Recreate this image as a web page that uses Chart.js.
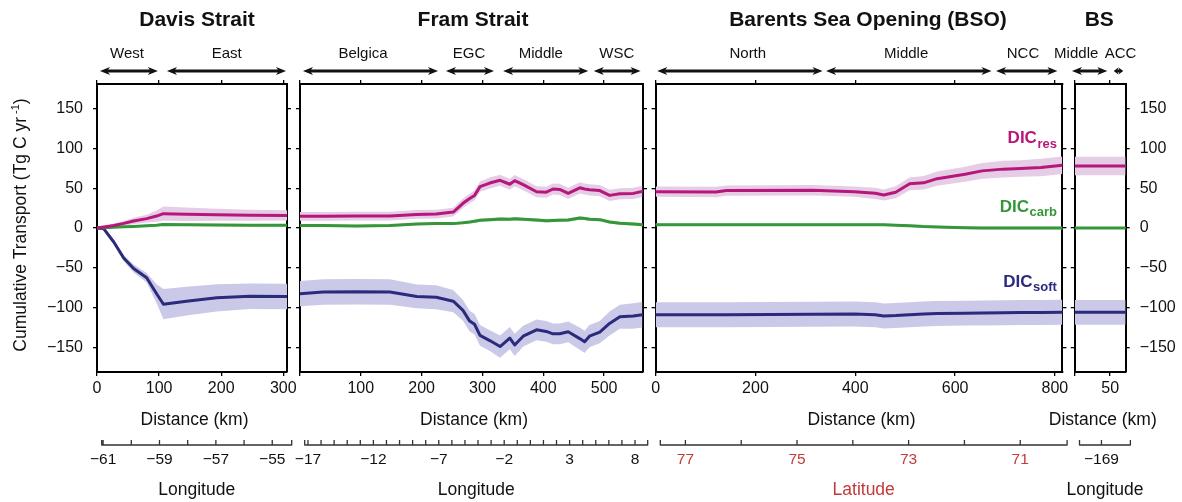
<!DOCTYPE html>
<html><head><meta charset="utf-8">
<script src="https://cdn.jsdelivr.net/npm/chart.js@4.4.1/dist/chart.umd.min.js"></script>
<style>
html,body{margin:0;padding:0;background:#fff;width:1182px;height:502px;overflow:hidden}
canvas{position:absolute;left:0;top:0}
</style></head><body>
<canvas id="c0" width="1182" height="502"></canvas>
<canvas id="c1" width="1182" height="502"></canvas>
<canvas id="c2" width="1182" height="502"></canvas>
<canvas id="c3" width="1182" height="502"></canvas>
<script>
// ---------------- DATA ----------------
const yTicks = [-150, -100, -50, 0, 50, 100, 150];

// Davis Strait
const davisKm      = [0, 11, 27, 43, 59, 80, 96, 107, 144, 193, 246, 306];
const davisRes     = [0, 1.2, 3.2, 5.8, 8.8, 11.8, 15, 18, 17.4, 16.6, 16, 15.8];
const davisCarb    = [0, 0.4, 1, 1.5, 2, 2.8, 3.5, 4.5, 4.2, 3.8, 3.5, 3.4];
const davisSoft    = [0, -1, -17.6, -37.8, -51, -62.6, -82.7, -95.8, -92, -87.8, -85.7, -86];
const davisResErr  = [0.5, 1, 2, 3, 4, 5, 7, 9, 8.5, 7.5, 7, 6.5];
const davisCarbErr = [0.3, 0.4, 0.6, 0.8, 1, 1.2, 1.4, 1.6, 1.6, 1.6, 1.6, 1.6];
const davisSoftErr = [0.5, 1, 2.5, 4, 5, 6, 12, 19, 18, 17, 16, 16];
const davisXTicks  = [0, 100, 200, 300];
const davisXLabels = ['0', '100', '200', '300'];
const davisSecNames = ['West', 'East'];
const davisSecFrom  = [4.8, 112.7];
const davisSecTo    = [98, 304.4];
const davisSecLabel = [48.3, 209];
const davisLonRange  = [-61.05, -54.31];
const davisLonTicks  = [-61, -60, -59, -58, -57, -56, -55];
const davisLonLabels = [-61, -59, -57, -55];

// Fram Strait
const framKm   = [0, 38, 93, 148, 192, 224, 252, 268, 279, 287, 296, 312, 329, 345, 353, 367, 389, 405, 416, 427, 441, 460, 468, 476, 493, 509, 526, 548, 563];
const framRes  = [14.7, 14.7, 15, 15, 17, 17.5, 20, 31, 37, 41, 52, 56.5, 60, 55, 59.5, 54.5, 45.5, 45, 49, 48.5, 43.5, 50.5, 49, 48, 47, 41, 43, 43.5, 46];
const framCarb = [3, 3, 2.5, 3, 5, 5.5, 5.5, 6.5, 7.5, 8.5, 9.7, 10.5, 11.2, 11, 11.5, 11, 10, 9, 9.5, 9.8, 10, 12.5, 12, 11, 10.5, 7.5, 6, 5, 4.2];
const framSoft = [-82.5, -80.5, -80, -80.5, -86, -87, -92, -103.5, -117, -121, -135, -141.5, -149, -138.5, -147, -136, -128, -130, -133, -133, -130.5, -139, -143, -136, -131, -120, -111.5, -110.5, -109];
const framResErr  = [5.5, 5.5, 5.5, 5.5, 5.5, 5.5, 5.5, 6, 6, 6, 6.5, 7, 7, 7, 7, 7, 7, 7, 7, 7, 7, 7, 7, 7, 7, 7, 7, 7, 7];
const framCarbErr = [1.5, 1.5, 1.5, 1.5, 1.5, 1.5, 1.5, 1.6, 1.7, 1.8, 1.9, 2, 2, 2, 2, 2, 2, 2, 2, 2, 2, 2, 2, 2, 2, 2, 2, 2, 2];
const framSoftErr = [16, 16, 16, 16, 15, 15, 14, 13, 13, 13, 13, 13, 14, 14, 14, 13, 13, 13, 13, 13, 13, 14, 14, 14, 14, 15, 15, 16, 16];
const framXTicks  = [0, 100, 200, 300, 400, 500];
const framXLabels = ['', '100', '200', '300', '400', '500'];
const framSecNames = ['Belgica', 'EGC', 'Middle', 'WSC'];
const framSecFrom  = [4.9, 240, 334, 483];
const framSecTo    = [227, 319, 474, 560];
const framSecLabel = [103.6, 278, 396, 521];
const framLonRange  = [-17.25, 8.97];
const framLonTicks  = [-17, -16, -15, -14, -13, -12, -11, -10, -9, -8, -7, -6, -5, -4, -3, -2, -1, 0, 1, 2, 3, 4, 5, 6, 7, 8];
const framLonLabels = [-17, -12, -7, -2, 3, 8];

// Barents Sea Opening
const bsoKm   = [0, 121, 142, 315, 398, 440, 457, 481, 509, 537, 564, 620, 654, 696, 731, 772, 815];
const bsoRes  = [45.7, 45.3, 47, 47.4, 45.7, 43.6, 41.5, 44.9, 55.6, 56.8, 62, 67.5, 71.8, 74, 74.8, 76, 79];
const bsoCarb = [4, 4, 4, 4, 4, 4, 4, 3.6, 2.8, 1.8, 1.4, 0.3, 0, 0, 0, 0, 0];
const bsoSoft = [-109, -109, -109, -108.5, -108, -109, -110.5, -110, -109, -108, -107.5, -107, -106.7, -106.5, -106.3, -106.2, -106];
const bsoResErr  = [6.5, 6.5, 6.5, 6.5, 6.5, 7, 7, 7.5, 8, 8.5, 9, 9.5, 10, 10.5, 10.5, 11, 11];
const bsoCarbErr = [1.5, 1.5, 1.5, 1.5, 1.5, 1.5, 1.5, 1.5, 1.5, 1.5, 1.5, 1.5, 1.5, 1.5, 1.5, 1.5, 1.5];
const bsoSoftErr = [15.7, 15.7, 15.7, 15.7, 15.7, 15.7, 15.7, 15.7, 15.7, 15.7, 15.7, 15.7, 15.7, 15.7, 15.7, 15.7, 15.7];
const bsoXTicks  = [0, 200, 400, 600, 800];
const bsoXLabels = ['0', '200', '400', '600', '800'];
const bsoSecNames = ['North', 'Middle', 'NCC'];
const bsoSecFrom  = [3.4, 341.5, 682];
const bsoSecTo    = [334.5, 673, 805];
const bsoSecLabel = [184.7, 502, 736];
const bsoLatRange  = [77.45, 70.16];
const bsoLatTicks  = [77, 76, 75, 74, 73, 72, 71];
const bsoLatLabels = [77, 75, 73, 71];

// Bering Strait
const bsKm   = [0, 72];
const bsRes  = [78, 78];
const bsCarb = [0, 0];
const bsSoft = [-106, -106];
const bsResErr  = [11.7, 11.7];
const bsCarbErr = [1.2, 1.2];
const bsSoftErr = [15.5, 15.5];
const bsXTicks  = [0, 50];
const bsXLabels = ['', '50'];
const bsSecNames = ['Middle', 'ACC'];
const bsSecFrom  = [-4, 55];
const bsSecTo    = [46, 68.6];
const bsSecLabel = [2, 64.6];
const bsLonRange  = [-169.69, -168.09];
const bsLonTicks  = [-169];
const bsLonLabels = [-169];

// ---------------- STYLE ----------------
const FONT = '"Liberation Sans", Arial, Helvetica, sans-serif';
Chart.defaults.font.family = FONT;
Chart.defaults.color = '#111';
const COLORS = {
  res: '#b5177b', resBand: '#e6cde6',
  carb: '#35973a', carbBand: '#b8dcb2',
  soft: '#2c2a7c', softBand: '#cacae8',
  lat: '#c33a3a', ink: '#111'
};
const fmt = v => (v < 0 ? '\u2212' + Math.abs(v) : String(v));

const panels = [
  { id: 'c0', title: 'Davis Strait', titleDx: 5, area: [97, 287], xMax: 306,
    km: davisKm, res: davisRes, carb: davisCarb, soft: davisSoft,
    resErr: davisResErr, carbErr: davisCarbErr, softErr: davisSoftErr,
    xTicks: davisXTicks, xLabels: davisXLabels,
    secNames: davisSecNames, secFrom: davisSecFrom, secTo: davisSecTo, secLabel: davisSecLabel,
    axRange: davisLonRange, axTicks: davisLonTicks, axLabels: davisLonLabels, axTitle: 'Longitude', axColor: COLORS.ink,
    leftLabels: true, rightLabels: false, yTitle: true, dic: false },
  { id: 'c1', title: 'Fram Strait', titleDx: 1.5, area: [300, 643], xMax: 564,
    km: framKm, res: framRes, carb: framCarb, soft: framSoft,
    resErr: framResErr, carbErr: framCarbErr, softErr: framSoftErr,
    xTicks: framXTicks, xLabels: framXLabels,
    secNames: framSecNames, secFrom: framSecFrom, secTo: framSecTo, secLabel: framSecLabel,
    axRange: framLonRange, axTicks: framLonTicks, axLabels: framLonLabels, axTitle: 'Longitude', axColor: COLORS.ink,
    leftLabels: false, rightLabels: false, yTitle: false, dic: false },
  { id: 'c2', title: 'Barents Sea Opening (BSO)', titleDx: 9, area: [655.6, 1062.4], xMax: 815,
    km: bsoKm, res: bsoRes, carb: bsoCarb, soft: bsoSoft,
    resErr: bsoResErr, carbErr: bsoCarbErr, softErr: bsoSoftErr,
    xTicks: bsoXTicks, xLabels: bsoXLabels,
    secNames: bsoSecNames, secFrom: bsoSecFrom, secTo: bsoSecTo, secLabel: bsoSecLabel,
    axRange: bsoLatRange, axTicks: bsoLatTicks, axLabels: bsoLatLabels, axTitle: 'Latitude', axColor: COLORS.lat,
    leftLabels: false, rightLabels: false, yTitle: false, dic: true },
  { id: 'c3', title: 'BS', titleDx: -1, area: [1074.8, 1125.7], xMax: 72,
    km: bsKm, res: bsRes, carb: bsCarb, soft: bsSoft,
    resErr: bsResErr, carbErr: bsCarbErr, softErr: bsSoftErr,
    xTicks: bsXTicks, xLabels: bsXLabels,
    secNames: bsSecNames, secFrom: bsSecFrom, secTo: bsSecTo, secLabel: bsSecLabel,
    axRange: bsLonRange, axTicks: bsLonTicks, axLabels: bsLonLabels, axTitle: 'Longitude', axColor: COLORS.ink,
    leftLabels: false, rightLabels: true, yTitle: false, dic: false }
];

const CANVAS_W = 1182, CANVAS_H = 502;
const PLOT_TOP = 84, PLOT_BOTTOM = 372;
const X_AXIS_H = 30, Y_AXIS_W = 56;

function arrow(ctx, x0, x1, y) {
  const len = x1 - x0;
  const h = Math.min(10, len / 2);
  const w = h >= 10 ? 4 : 3.4;
  ctx.fillStyle = '#111'; ctx.strokeStyle = '#111'; ctx.lineWidth = 3;
  if (len - 2 * h * 0.7 > 0) {
    ctx.beginPath(); ctx.moveTo(x0 + h * 0.7, y); ctx.lineTo(x1 - h * 0.7, y); ctx.stroke();
  }
  ctx.beginPath();
  ctx.moveTo(x0, y); ctx.lineTo(x0 + h, y - w); ctx.lineTo(x0 + h * 0.72, y); ctx.lineTo(x0 + h, y + w); ctx.closePath();
  ctx.moveTo(x1, y); ctx.lineTo(x1 - h, y - w); ctx.lineTo(x1 - h * 0.72, y); ctx.lineTo(x1 - h, y + w); ctx.closePath();
  ctx.fill();
}

function makeDeco(p) {
  return {
    id: 'deco' + p.id,
    afterDraw(chart) {
      const ctx = chart.ctx, xs = chart.scales.x, ca = chart.chartArea;
      const cx = (ca.left + ca.right) / 2;
      ctx.save();
      ctx.textAlign = 'center'; ctx.textBaseline = 'alphabetic'; ctx.fillStyle = COLORS.ink;
      ctx.font = 'bold 21px ' + FONT;
      ctx.fillText(p.title, cx + p.titleDx, 26);
      p.secNames.forEach((n, i) => {
        arrow(ctx, xs.getPixelForValue(p.secFrom[i]), xs.getPixelForValue(p.secTo[i]), 71);
        ctx.fillStyle = COLORS.ink; ctx.font = '15px ' + FONT;
        ctx.fillText(n, xs.getPixelForValue(p.secLabel[i]), 58.3);
      });
      ctx.fillStyle = COLORS.ink; ctx.font = '17.5px ' + FONT;
      ctx.fillText('Distance (km)', cx + 2.5, 425);
      const sh = 4.7, L = ca.left + sh, R = ca.right + sh, yA = 445;
      const a0 = p.axRange[0], a1 = p.axRange[1];
      const px = v => L + (v - a0) / (a1 - a0) * (R - L);
      ctx.strokeStyle = '#333'; ctx.lineWidth = 1.3;
      ctx.beginPath(); ctx.moveTo(L, yA); ctx.lineTo(R, yA);
      [L, R].concat(p.axTicks.map(px)).forEach(x => { ctx.moveTo(x, yA + 0.6); ctx.lineTo(x, yA - 5); });
      ctx.stroke();
      ctx.fillStyle = p.axColor; ctx.font = '15.5px ' + FONT;
      p.axLabels.forEach(v => ctx.fillText(fmt(v), px(v), 464.3));
      ctx.font = '17.5px ' + FONT;
      ctx.fillText(p.axTitle, (L + R) / 2, 494.5);
      if (p.yTitle) {
        ctx.save();
        ctx.translate(26, 225); ctx.rotate(-Math.PI / 2);
        ctx.fillStyle = COLORS.ink; ctx.textAlign = 'left';
        const t1 = 'Cumulative Transport (Tg C yr', t2 = '-1', t3 = ')';
        ctx.font = '17.5px ' + FONT; const w1 = ctx.measureText(t1).width, w3 = ctx.measureText(t3).width;
        ctx.font = '11px ' + FONT; const w2 = ctx.measureText(t2).width;
        const gap = 3, s = -(w1 + gap + w2 + w3) / 2;
        ctx.font = '17.5px ' + FONT; ctx.fillText(t1, s, 0); ctx.fillText(t3, s + w1 + gap + w2, 0);
        ctx.font = '11px ' + FONT; ctx.fillText(t2, s + w1 + gap, -7);
        ctx.restore();
      }
      if (p.dic) {
        const items = [['res', COLORS.res, 143.3], ['carb', COLORS.carb, 211.7], ['soft', COLORS.soft, 286.7]];
        ctx.textAlign = 'left';
        items.forEach(([sub, col, y]) => {
          ctx.font = 'bold 17px ' + FONT; const w1 = ctx.measureText('DIC').width;
          ctx.font = 'bold 13px ' + FONT; const w2 = ctx.measureText(sub).width;
          const x0 = ca.right - 5.5 - w1 - w2 - 0.5;
          ctx.fillStyle = col;
          ctx.font = 'bold 17px ' + FONT; ctx.fillText('DIC', x0, y);
          ctx.font = 'bold 13px ' + FONT; ctx.fillText(sub, x0 + w1 + 0.5, y + 4.5);
        });
      }
      ctx.restore();
    }
  };
}

// fixed axis box sizes so the plot area lands exactly where wanted
function fitTo(size) {
  return s => {
    if (s.isHorizontal()) s.height = size; else s.width = size;
    s.paddingLeft = 0; s.paddingRight = 0; s.paddingTop = 0; s.paddingBottom = 0;
  };
}
function setTicks(arr) { return s => { s.ticks = arr.map(v => ({ value: v })); }; }

function axis(size, extra) {
  return Object.assign({
    type: 'linear',
    grid: { drawOnChartArea: false, drawTicks: true, tickLength: 4, color: '#000', lineWidth: 1.3 },
    border: { display: true, color: '#000', width: 2 },
    afterFit: fitTo(size)
  }, extra);
}

function band(km, val, err, color) {
  return [
    { data: km.map((k, i) => ({ x: k, y: val[i] - err[i] })), borderWidth: 0, pointRadius: 0, fill: false, order: 2 },
    { data: km.map((k, i) => ({ x: k, y: val[i] + err[i] })), borderWidth: 0, pointRadius: 0, fill: '-1', backgroundColor: color, order: 2 }
  ];
}
function line(km, val, color) {
  return { data: km.map((k, i) => ({ x: k, y: val[i] })), borderColor: color, borderWidth: 3, pointRadius: 0,
           fill: false, tension: 0, order: 0, borderJoinStyle: 'round', borderCapStyle: 'round' };
}

panels.forEach(p => {
  const datasets = [].concat(
    band(p.km, p.res, p.resErr, COLORS.resBand),
    band(p.km, p.carb, p.carbErr, COLORS.carbBand),
    band(p.km, p.soft, p.softErr, COLORS.softBand),
    [line(p.km, p.res, COLORS.res), line(p.km, p.carb, COLORS.carb), line(p.km, p.soft, COLORS.soft)]
  );
  const tickFont = { size: 16 };
  const lw = p.leftLabels ? Y_AXIS_W : 0;
  const rw = p.rightLabels ? Y_AXIS_W : 0;
  new Chart(document.getElementById(p.id), {
    type: 'line',
    data: { datasets },
    options: {
      responsive: false, animation: false, devicePixelRatio: 1,
      layout: { padding: {
        left: p.area[0] - lw,
        right: CANVAS_W - p.area[1] - rw,
        top: PLOT_TOP,
        bottom: CANVAS_H - PLOT_BOTTOM - X_AXIS_H } },
      plugins: { legend: { display: false }, tooltip: { enabled: false } },
      scales: {
        x: axis(X_AXIS_H, { axis: 'x', position: 'bottom', min: 0, max: p.xMax, afterBuildTicks: setTicks(p.xTicks),
          ticks: { display: true, autoSkip: false, maxRotation: 0, minRotation: 0, padding: 3, font: tickFont, color: COLORS.ink,
                   callback: (v, i) => p.xLabels[i] } }),
        xTop: axis(0, { axis: 'x', position: 'top', min: 0, max: p.xMax, afterBuildTicks: setTicks(p.xTicks),
          ticks: { display: false } }),
        y: axis(lw, { axis: 'y', position: 'left', min: -181, max: 181, afterBuildTicks: setTicks(yTicks),
          ticks: { display: p.leftLabels, autoSkip: false, padding: 10, font: tickFont, color: COLORS.ink, callback: v => fmt(v) } }),
        yRight: axis(rw, { axis: 'y', position: 'right', min: -181, max: 181, afterBuildTicks: setTicks(yTicks),
          ticks: { display: p.rightLabels, autoSkip: false, padding: 10, font: tickFont, color: COLORS.ink, callback: v => fmt(v) } })
      }
    },
    plugins: [makeDeco(p)]
  });
});
</script>
</body></html>
